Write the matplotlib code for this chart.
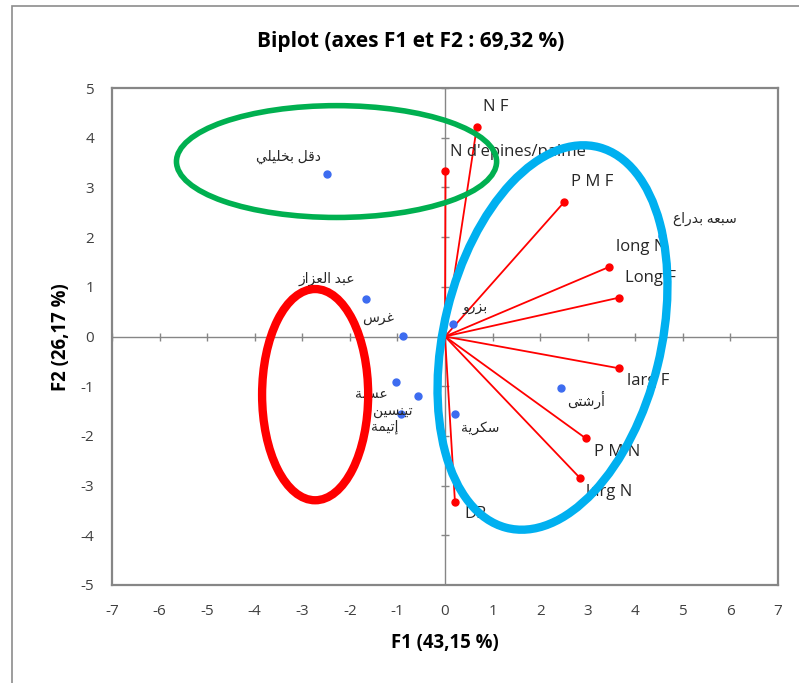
import matplotlib
matplotlib.use('Agg')
import matplotlib.pyplot as plt
from matplotlib.patches import Ellipse, Rectangle

plt.rcParams['font.family'] = ['Open Sans', 'DejaVu Sans']
plt.rcParams['axes.unicode_minus'] = False

# variables (red vectors)
var_names = ['N F', "N d'epines/palme", 'P M F', 'long N', 'Long F', 'larg F', 'P M N', 'larg N', 'DP']
var_f1 = [0.67, 0.01, 2.51, 3.45, 3.65, 3.66, 2.96, 2.84, 0.21]
var_f2 = [4.22, 3.32, 2.71, 1.40, 0.78, -0.64, -2.05, -2.85, -3.34]

# observations (blue points)
obs_names = ['دقل بخليلي', 'عبد العزاز', 'غرس', 'بزرو', 'عسلة', 'تينسين', 'إتيمة', 'سكرية', 'أرشتى', 'سبعه بدراع']
obs_f1 = [-2.47, -1.67, -0.89, 0.16, -1.02, -0.56, -0.92, 0.21, 2.43, 4.57]
obs_f2 = [3.26, 0.75, 0.01, 0.25, -0.92, -1.20, -1.56, -1.56, -1.03, 2.02]

xticks = list(range(-7, 8))
yticks = list(range(-5, 6))

# label offsets in pixels (dx right, dy down)
var_off = [(19, -20), (5, -19), (28, -20), (32, -20), (32, -20), (29, 13), (31, 14), (29, 14), (20, 12)]
obs_off = [(-39, -17), (-39, -20), (-25, -18), (23, -17), (-25, 12), (-26, 15), (-17, 13), (25, 14), (25, 13), (42, -17)]

# simple arabic shaping -> presentation forms (isol, final, init, medial)
FORMS = {
    '\u0627': (0xFE8D, 0xFE8E, None, None),
    '\u0623': (0xFE83, 0xFE84, None, None),
    '\u0625': (0xFE87, 0xFE88, None, None),
    '\u0628': (0xFE8F, 0xFE90, 0xFE91, 0xFE92),
    '\u0629': (0xFE93, 0xFE94, None, None),
    '\u062A': (0xFE95, 0xFE96, 0xFE97, 0xFE98),
    '\u062E': (0xFEA5, 0xFEA6, 0xFEA7, 0xFEA8),
    '\u062F': (0xFEA9, 0xFEAA, None, None),
    '\u0631': (0xFEAD, 0xFEAE, None, None),
    '\u0632': (0xFEAF, 0xFEB0, None, None),
    '\u0633': (0xFEB1, 0xFEB2, 0xFEB3, 0xFEB4),
    '\u0634': (0xFEB5, 0xFEB6, 0xFEB7, 0xFEB8),
    '\u0639': (0xFEC9, 0xFECA, 0xFECB, 0xFECC),
    '\u063A': (0xFECD, 0xFECE, 0xFECF, 0xFED0),
    '\u0642': (0xFED5, 0xFED6, 0xFED7, 0xFED8),
    '\u0643': (0xFED9, 0xFEDA, 0xFEDB, 0xFEDC),
    '\u0644': (0xFEDD, 0xFEDE, 0xFEDF, 0xFEE0),
    '\u0645': (0xFEE1, 0xFEE2, 0xFEE3, 0xFEE4),
    '\u0646': (0xFEE5, 0xFEE6, 0xFEE7, 0xFEE8),
    '\u0647': (0xFEE9, 0xFEEA, 0xFEEB, 0xFEEC),
    '\u0648': (0xFEED, 0xFEEE, None, None),
    '\u0649': (0xFEEF, 0xFEF0, None, None),
    '\u064A': (0xFEF1, 0xFEF2, 0xFEF3, 0xFEF4),
}


def shape(word):
    out = []
    for i, ch in enumerate(word):
        f = FORMS.get(ch)
        if f is None:
            out.append(ch)
            continue
        prev = word[i - 1] if i > 0 else ''
        nxt = word[i + 1] if i < len(word) - 1 else ''
        pj = prev in FORMS and FORMS[prev][2] is not None
        nj = f[2] is not None and nxt in FORMS
        if pj and nj:
            c = f[3]
        elif pj:
            c = f[1]
        elif nj:
            c = f[2]
        else:
            c = f[0]
        out.append(chr(c))
    return ''.join(reversed(out))


fig = plt.figure(figsize=(7.99, 6.83), dpi=100)
fig.add_artist(Rectangle((12 / 799, -0.1), 2, 1.1 - 6 / 683, transform=fig.transFigure,
                         fill=False, ec='#8c8c8c', lw=1.2))
ax = fig.add_axes([112 / 799, 98 / 683, 666 / 799, 497 / 683])

ax.set_xlim(-7, 7)
ax.set_ylim(-5, 5)
ax.set_xticks(xticks)
ax.set_yticks(yticks)
ax.tick_params(length=0, labelsize=11, labelcolor='#404040')
ax.tick_params(axis='x', pad=14)
ax.tick_params(axis='y', pad=13)
for s in ax.spines.values():
    s.set_color('#868686')
    s.set_linewidth(1.6)

# axes through origin with crossing ticks
ax.axhline(0, color='#868686', lw=1, zorder=1)
ax.axvline(0, color='#868686', lw=1, zorder=1)
ax.plot(xticks, [0] * len(xticks), ls='none', marker='|', ms=6, mew=1, color='#868686', zorder=1)
ax.plot([0] * len(yticks), yticks, ls='none', marker='_', ms=6, mew=1, color='#868686', zorder=1)

# vectors
for x, y in zip(var_f1, var_f2):
    ax.plot([0, x], [0, y], color='#ff0000', lw=1.3, zorder=3)
ax.plot(var_f1, var_f2, ls='none', marker='o', ms=5, color='#ff0000', zorder=3)
for name, x, y, (dx, dy) in zip(var_names, var_f1, var_f2, var_off):
    ha = 'left' if name.startswith("N d'") else 'center'
    ax.annotate(name, (x, y), xytext=(dx * 0.72, -dy * 0.72), textcoords='offset points',
                ha=ha, va='center', fontsize=12, color='#262626', zorder=4)

# observations
ax.plot(obs_f1, obs_f2, ls='none', marker='o', ms=5, color='#3d6cf0', zorder=3)
for name, x, y, (dx, dy) in zip(obs_names, obs_f1, obs_f2, obs_off):
    ax.annotate(shape(name), (x, y), xytext=(dx * 0.72, -dy * 0.72), textcoords='offset points',
                ha='center', va='center', fontsize=10, color='#262626', zorder=4)

# group ellipses
ax.add_patch(Ellipse((-2.28, 3.52), 6.73, 2.25, fill=False, ec='#00b050', lw=4, zorder=5))
ax.add_patch(Ellipse((-2.73, -1.17), 2.23, 4.25, fill=False, ec='#ff0000', lw=6, zorder=5))
ax.add_patch(Ellipse((2.26, -0.02), 7.9, 4.56, angle=75.6, fill=False, ec='#00b0f0', lw=6, zorder=5))

fig.text(411 / 799, 1 - 42 / 683, 'Biplot (axes F1 et F2 : 69,32 %)', ha='center', va='center',
         fontsize=15, fontweight='bold')
fig.text(445 / 799, 1 - 643 / 683, 'F1 (43,15 %)', ha='center', va='center',
         fontsize=13.4, fontweight='bold')
fig.text(61 / 799, 1 - 337 / 683, 'F2 (26,17 %)', ha='center', va='center', rotation=90,
         fontsize=13.4, fontweight='bold')

fig.savefig('out.png', dpi=100)
